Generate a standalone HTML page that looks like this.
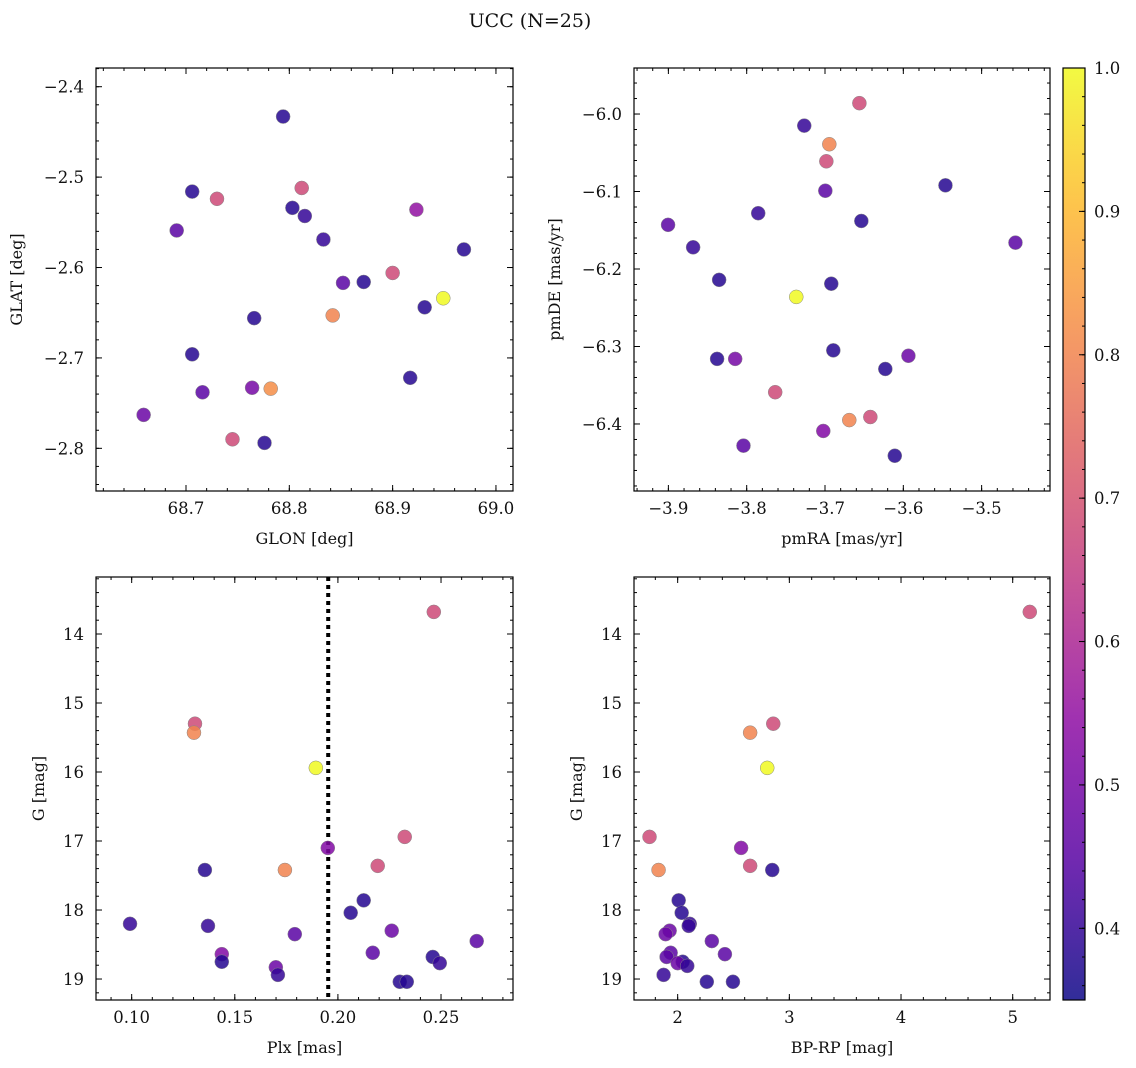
<!DOCTYPE html>
<html><head><meta charset="utf-8"><style>
html,body{margin:0;padding:0;background:#fff;width:1136px;height:1068px;overflow:hidden}
svg text{font-family:"DejaVu Serif","Liberation Serif",serif;fill:#111}
</style></head><body>
<svg id="fig" width="1136" height="1068" xmlns="http://www.w3.org/2000/svg">
<text x="530" y="27" font-size="19" text-anchor="middle">UCC (N=25)</text>
</svg>
<script>
// ---- data ----
const glon=[68.794,68.706,68.812,68.730,68.691,68.803,68.815,68.833,68.923,68.969,68.900,68.852,68.872,68.949,68.842,68.766,68.931,68.706,68.716,68.764,68.782,68.917,68.659,68.745,68.776];
const glat=[-2.433,-2.516,-2.512,-2.524,-2.559,-2.534,-2.543,-2.569,-2.536,-2.580,-2.606,-2.617,-2.616,-2.634,-2.653,-2.656,-2.644,-2.696,-2.738,-2.733,-2.734,-2.722,-2.763,-2.790,-2.794];
const probA=[0.38,0.38,0.68,0.68,0.45,0.38,0.40,0.40,0.55,0.38,0.68,0.45,0.38,1.0,0.8,0.38,0.38,0.38,0.45,0.5,0.82,0.38,0.48,0.68,0.38];
const pmra=[-3.6561,-3.7265,-3.6945,-3.6983,-3.6996,-3.5462,-3.7853,-3.6536,-3.9004,-3.8684,-3.4568,-3.8352,-3.7367,-3.6920,-3.6894,-3.8378,-3.8147,-3.5935,-3.6230,-3.7636,-3.6421,-3.6690,-3.7022,-3.8041,-3.6109];
const pmde=[-5.986,-6.015,-6.039,-6.061,-6.099,-6.092,-6.128,-6.138,-6.143,-6.172,-6.166,-6.214,-6.236,-6.219,-6.305,-6.316,-6.316,-6.312,-6.329,-6.359,-6.391,-6.395,-6.409,-6.428,-6.441];
const probB=[0.68,0.40,0.8,0.68,0.45,0.38,0.40,0.38,0.45,0.40,0.45,0.38,1.0,0.38,0.38,0.38,0.5,0.48,0.38,0.68,0.68,0.8,0.52,0.45,0.38];
const plx=[0.2465,0.1307,0.1302,0.1893,0.1951,0.2324,0.2193,0.1355,0.1743,0.2125,0.2062,0.0992,0.1370,0.1791,0.2261,0.2673,0.2169,0.1437,0.2460,0.1437,0.2494,0.1699,0.1709,0.2300,0.2334];
const gmagC=[13.68,15.30,15.43,15.94,17.10,16.94,17.36,17.42,17.42,17.86,18.04,18.20,18.23,18.35,18.30,18.45,18.62,18.64,18.68,18.75,18.77,18.83,18.94,19.04,19.04];
const probC=[0.68,0.68,0.8,1.0,0.52,0.68,0.68,0.38,0.8,0.38,0.38,0.40,0.40,0.45,0.48,0.45,0.45,0.52,0.38,0.38,0.40,0.48,0.40,0.38,0.38];
const bprp=[5.153,2.856,2.649,2.802,2.568,1.748,2.649,2.847,1.829,2.009,2.036,2.108,2.099,1.928,1.892,2.306,1.937,2.423,1.901,2.045,2.000,1.874,2.261,2.495,2.086];
const gmagD=[13.68,15.30,15.43,15.94,17.10,16.94,17.36,17.42,17.42,17.86,18.04,18.20,18.23,18.30,18.35,18.45,18.62,18.64,18.68,18.75,18.77,18.94,19.04,19.04,18.81];
const probD=[0.68,0.68,0.8,1.0,0.52,0.68,0.68,0.38,0.8,0.38,0.38,0.40,0.40,0.48,0.48,0.45,0.45,0.45,0.45,0.38,0.48,0.40,0.38,0.38,0.40];
const cbTicks=[0.4,0.5,0.6,0.7,0.8,0.9,1.0];
// ---- helpers ----
const NS="http://www.w3.org/2000/svg";const svg=document.getElementById('fig');
function mk(t,a,p){const e=document.createElementNS(NS,t);for(const k in a)e.setAttribute(k,a[k]);(p||svg).appendChild(e);return e;}
const stops=[[0,[13,8,135]],[0.14,[84,2,163]],[0.29,[139,10,165]],[0.43,[185,50,137]],[0.57,[219,92,104]],[0.71,[244,136,73]],[0.86,[254,188,43]],[1,[240,249,33]]];
function cmap(v){let t=(v-0.35)/0.65;t=Math.max(0,Math.min(1,t));for(let i=1;i<stops.length;i++){if(t<=stops[i][0]){const a=stops[i-1],b=stops[i];const f=(t-a[0])/(b[0]-a[0]);const c=a[1].map((x,j)=>Math.round(x+(b[1][j]-x)*f));return `rgb(${c})`;}}return 'rgb(240,249,33)';}
function fmt(v,d){return (v<0?'\u2212':'')+Math.abs(v).toFixed(d);}
function panel(o){
 const g=mk('g',{});
 const X=v=>o.L+(v-o.x0)/(o.x1-o.x0)*(o.R-o.L);
 const Y=v=>o.T+(v-o.y0)/(o.y1-o.y0)*(o.B-o.T);
 mk('rect',{x:o.L,y:o.T,width:o.R-o.L,height:o.B-o.T,fill:'none',stroke:'#000','stroke-width':1.2},g);
 if(o.vline!==undefined){const l=mk('line',{x1:X(o.vline),x2:X(o.vline),y1:o.T,y2:o.B,stroke:'#000','stroke-width':4,'stroke-dasharray':'4 4'},g);}
 for(let i=0;i<o.xs.length;i++){const c=mk('circle',{cx:X(o.xs[i]),cy:Y(o.ys[i]),r:7,fill:cmap(o.cs[i]),'fill-opacity':0.85,stroke:'#888','stroke-width':0.5},g);}
 const xmn=Math.min(o.x0,o.x1),xmx=Math.max(o.x0,o.x1);
 for(let v=Math.ceil(xmn/o.xmin-1e-6)*o.xmin;v<=xmx+1e-9;v+=o.xmin){const x=X(v);mk('line',{x1:x,x2:x,y1:o.B,y2:o.B-3,stroke:'#000'},g);mk('line',{x1:x,x2:x,y1:o.T,y2:o.T+3,stroke:'#000'},g);}
 const ymn=Math.min(o.y0,o.y1),ymx=Math.max(o.y0,o.y1);
 for(let v=Math.ceil(ymn/o.ymin-1e-6)*o.ymin;v<=ymx+1e-9;v+=o.ymin){const y=Y(v);mk('line',{x1:o.L,x2:o.L+3,y1:y,y2:y,stroke:'#000'},g);mk('line',{x1:o.R,x2:o.R-3,y1:y,y2:y,stroke:'#000'},g);}
 o.xt.forEach(v=>{const x=X(v);mk('line',{x1:x,x2:x,y1:o.B,y2:o.B-6,stroke:'#000'},g);mk('line',{x1:x,x2:x,y1:o.T,y2:o.T+6,stroke:'#000'},g);const t=mk('text',{x:x,y:o.B+23,'font-size':16.5,'text-anchor':'middle'},g);t.textContent=fmt(v,o.xd);});
 o.yt.forEach(v=>{const y=Y(v);mk('line',{x1:o.L,x2:o.L+6,y1:y,y2:y,stroke:'#000'},g);mk('line',{x1:o.R,x2:o.R-6,y1:y,y2:y,stroke:'#000'},g);const t=mk('text',{x:o.L-12,y:y+6,'font-size':16.5,'text-anchor':'end'},g);t.textContent=fmt(v,o.yd);});
 const xl=mk('text',{x:(o.L+o.R)/2,y:o.B+53,'font-size':16,'text-anchor':'middle'},g);xl.textContent=o.xlab;
 const yl=mk('text',{x:o.ylx,y:(o.T+o.B)/2,'font-size':16,'text-anchor':'middle',transform:`rotate(-90 ${o.ylx} ${(o.T+o.B)/2})`},g);yl.textContent=o.ylab;
}
panel({name:'glon-glat-panel',L:96,R:513,T:68,B:491,x0:68.6129,x1:69.0165,y0:-2.3793,y1:-2.8472,xs:glon,ys:glat,cs:probA,xt:[68.7,68.8,68.9,69.0],yt:[-2.4,-2.5,-2.6,-2.7,-2.8],xd:1,yd:1,xmin:0.02,ymin:0.02,xlab:'GLON [deg]',ylab:'GLAT [deg]',ylx:22});
panel({name:'proper-motion-panel',L:634,R:1050,T:68,B:491,x0:-3.9439,x1:-3.4127,y0:-5.9406,y1:-6.4865,xs:pmra,ys:pmde,cs:probB,xt:[-3.9,-3.8,-3.7,-3.6,-3.5],yt:[-6.0,-6.1,-6.2,-6.3,-6.4],xd:1,yd:1,xmin:0.02,ymin:0.02,xlab:'pmRA [mas/yr]',ylab:'pmDE [mas/yr]',ylx:560});
panel({name:'plx-g-panel',L:96,R:513,T:577,B:1000,x0:0.0827,x1:0.2849,y0:13.174,y1:19.304,xs:plx,ys:gmagC,cs:probC,xt:[0.10,0.15,0.20,0.25],yt:[14,15,16,17,18,19],xd:2,yd:0,xmin:0.01,ymin:0.2,xlab:'Plx [mas]',ylab:'G [mag]',ylx:44,vline:0.1953});
panel({name:'cmd-panel',L:634,R:1050,T:577,B:1000,x0:1.609,x1:5.334,y0:13.174,y1:19.304,xs:bprp,ys:gmagD,cs:probD,xt:[2,3,4,5],yt:[14,15,16,17,18,19],xd:0,yd:0,xmin:0.2,ymin:0.2,xlab:'BP-RP [mag]',ylab:'G [mag]',ylx:582});
// colorbar
const cg=mk('g',{});
const defs=mk('defs',{},cg);const lg=mk('linearGradient',{id:'cbg',x1:0,y1:1,x2:0,y2:0},defs);
for(let i=0;i<=20;i++){const v=0.35+0.65*i/20;mk('stop',{offset:i/20,'stop-color':cmap(v),'stop-opacity':0.85},lg);}
const cT=68,cB=1000,cL=1063,cR=1085;const CY=v=>cB-(v-0.35)/0.65*(cB-cT);
mk('rect',{x:cL,y:cT,width:cR-cL,height:cB-cT,fill:'url(#cbg)',stroke:'#000','stroke-width':1.2},cg);
for(let v=0.36;v<=1.0001;v+=0.02){mk('line',{x1:cR,x2:cR-3,y1:CY(v),y2:CY(v),stroke:'#000'},cg);}
cbTicks.forEach(v=>{mk('line',{x1:cR,x2:cR-6,y1:CY(v),y2:CY(v),stroke:'#000'},cg);const t=mk('text',{x:cR+9,y:CY(v)+6,'font-size':16.5},cg);t.textContent=v.toFixed(1);});
</script>
</body></html>
